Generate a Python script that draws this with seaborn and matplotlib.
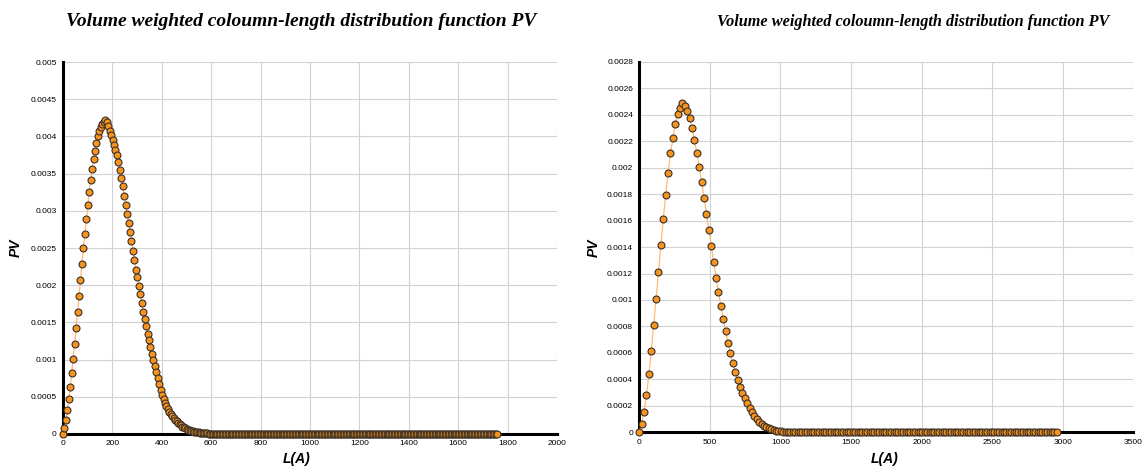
#plot.py - two column-length distribution panels (PV vs L)
import numpy as np
import pandas as pd
import matplotlib
matplotlib.use('Agg')
import matplotlib.pyplot as plt
import seaborn as sns

# left panel: PV sampled every ~5.9 A, 299 points
step_left = 5.9
pv_left_peak = [
    0.0, 0.00008, 0.00019, 0.00032, 0.00047, 0.00063, 0.00082, 0.00101, 0.00121, 0.00142,
    0.00164, 0.00185, 0.00207, 0.00229, 0.00250, 0.00269, 0.00289, 0.00308, 0.00325, 0.00342,
    0.00356, 0.00370, 0.00381, 0.00391, 0.00401, 0.00408, 0.00413, 0.00417, 0.00420, 0.00422,
    0.00419, 0.00414, 0.00408, 0.00402, 0.00395, 0.00389, 0.00382, 0.00375, 0.00366, 0.00355,
    0.00344, 0.00333, 0.00320, 0.00308, 0.00296, 0.00284, 0.00272, 0.00259, 0.00246, 0.00234,
    0.00221, 0.00211, 0.00199, 0.00188, 0.00176, 0.00164, 0.00155, 0.00145, 0.00135, 0.00126,
    0.00117, 0.00108, 0.00099, 0.00091, 0.00084, 0.00075, 0.00067, 0.00059, 0.00052,
    0.00047, 0.00042, 0.00038, 0.00034, 0.00030, 0.00027, 0.00024, 0.00021, 0.00019, 0.00017,
    0.00015, 0.00013, 0.000115, 0.00010, 0.000088, 0.000077, 0.000067, 0.000058, 0.00005, 0.000043,
    0.000037, 0.000032, 0.000027, 0.000023, 0.00002, 0.000017, 0.000014, 0.000012, 0.00001, 0.000008,
    0.000007, 0.000006, 0.000005, 0.000004, 0.000003, 0.000003, 0.000002, 0.000002, 0.000001,
]
pv_left_tail = [0.0] * 191   # the rest sit on the baseline up to ~1760

# right panel: PV sampled every ~17 A, 175 points
step_right = 17.0
pv_right_peak = [
    0.0, 0.000065, 0.000156, 0.000281, 0.000437, 0.000617, 0.000808, 0.001007, 0.001211, 0.001418,
    0.001612, 0.001793, 0.001962, 0.002108, 0.002226, 0.002327, 0.002402, 0.002453, 0.002486,
    0.002468, 0.002428, 0.002372, 0.002297, 0.002208, 0.002108, 0.002002, 0.001891, 0.001772, 0.001649,
    0.001528, 0.001407, 0.001287, 0.001168, 0.001062, 0.000954, 0.000858, 0.000765, 0.000677, 0.000597,
    0.000521, 0.000458, 0.000395, 0.000345, 0.000299, 0.000257, 0.000219, 0.000186, 0.000151, 0.000123,
    0.0001, 0.00008, 0.000063, 0.00005, 0.000038, 0.00003, 0.000023, 0.000017, 0.000013, 0.00001,
    0.000007, 0.000005, 0.000004, 0.000003, 0.000002, 0.000001, 0.000001,
]
pv_right_tail = [0.0] * 109   # flat up to ~2950

xticks_left = [0, 200, 400, 600, 800, 1000, 1200, 1400, 1600, 1800, 2000]
yticks_left = [0, 0.0005, 0.001, 0.0015, 0.002, 0.0025, 0.003, 0.0035, 0.004, 0.0045, 0.005]
xticks_right = [0, 500, 1000, 1500, 2000, 2500, 3000, 3500]
yticks_right = [0, 0.0002, 0.0004, 0.0006, 0.0008, 0.001, 0.0012, 0.0014, 0.0016, 0.0018,
                0.002, 0.0022, 0.0024, 0.0026, 0.0028]

title = 'Volume weighted coloumn-length distribution function PV'

pv_left = pv_left_peak + pv_left_tail
pv_right = pv_right_peak + pv_right_tail
df_left = pd.DataFrame({'L': np.arange(len(pv_left)) * step_left, 'PV': pv_left})
df_right = pd.DataFrame({'L': np.arange(len(pv_right)) * step_right, 'PV': pv_right})

sns.set_style('white')
plt.rcParams['font.family'] = ['Liberation Sans', 'DejaVu Sans']
plt.rcParams['text.color'] = 'black'

fig = plt.figure(figsize=(11.43, 4.66), dpi=100)
ax1 = fig.add_axes([0.0551, 0.0687, 0.4322, 0.798])
ax2 = fig.add_axes([0.5593, 0.0723, 0.4322, 0.795])


def draw_panel(ax, df, xticks, yticks):
    sns.lineplot(data=df, x='L', y='PV', ax=ax, color='#ffbb77', linewidth=0.9,
                 marker='o', markersize=5, markerfacecolor='#f7941e',
                 markeredgecolor='#3a3028', markeredgewidth=0.8, clip_on=False, zorder=3)
    ax.set_xlim(xticks[0], xticks[-1])
    ax.set_ylim(yticks[0], yticks[-1])
    ax.set_xticks(xticks)
    ax.set_yticks(yticks)
    ax.set_xticklabels([f'{t:g}' for t in xticks])
    ax.set_yticklabels([f'{t:g}' for t in yticks])
    ax.grid(True, color='#d2d2d2', linewidth=0.8)
    ax.set_axisbelow(True)
    for side in ['top', 'right']:
        ax.spines[side].set_visible(False)
    for side in ['left', 'bottom']:
        ax.spines[side].set_linewidth(2.2)
        ax.spines[side].set_color('black')
    ax.tick_params(direction='out', length=3, width=1, labelsize=6, colors='black', pad=1.5)
    ax.set_xlabel('')
    ax.set_ylabel('')


draw_panel(ax1, df_left, xticks_left, yticks_left)
draw_panel(ax2, df_right, xticks_right, yticks_right)

W, H = 1143, 466
fig.text(301 / W, 1 - 21 / H, title, family='Liberation Serif', fontsize=14,
         weight='bold', style='italic', ha='center', va='center', color='black')
fig.text(913 / W, 1 - 22 / H, title, family='Liberation Serif', fontsize=11.7,
         weight='bold', style='italic', ha='center', va='center', color='black')
for x in [16, 594]:
    fig.text(x / W, 1 - 248 / H, 'PV', rotation=90, fontsize=10, weight='bold',
             style='italic', ha='center', va='center', color='black')
for x in [297, 885]:
    fig.text(x / W, 1 - 459 / H, 'L(A)', fontsize=10, weight='bold',
             style='italic', ha='center', va='center', color='black')

plt.savefig('out.png', dpi=100)
